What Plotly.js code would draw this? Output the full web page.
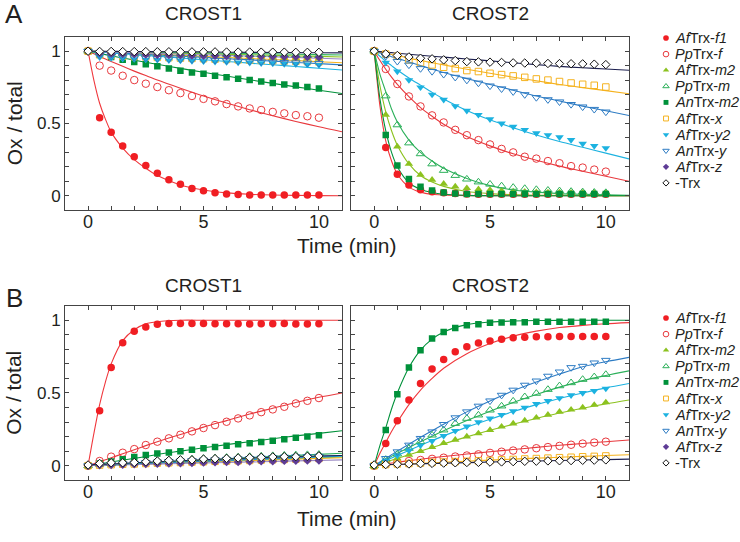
<!DOCTYPE html>
<html>
<head>
<meta charset="utf-8">
<script src="https://cdn.plot.ly/plotly-3.0.1.min.js"></script>
<style>html,body{margin:0;padding:0;background:#fff;}#chart{width:740px;height:542px;}</style>
</head>
<body>
<div id="chart"></div>
<script>
// ---------- DATA ----------
const time = [0,0.5,1,1.5,2,2.5,3,3.5,4,4.5,5,5.5,6,6.5,7,7.5,8,8.5,9,9.5,10];
const fitTime = [0,0.25,0.5,0.75,1,1.5,2,2.5,3,4,5,6,7,8,9,10,11];

const seriesNames = ['<i>Af</i>Trx-<i>f1</i>','<i>Pp</i>Trx-<i>f</i>','<i>Af</i>Trx-<i>m2</i>','<i>Pp</i>Trx-<i>m</i>','<i>An</i>Trx-<i>m2</i>','<i>Af</i>Trx-<i>x</i>','<i>Af</i>Trx-<i>y2</i>','<i>An</i>Trx-<i>y</i>','<i>Af</i>Trx-<i>z</i>','-Trx'];
const panelTitles = ['CROST1','CROST2'];
const rowLabels = ['A','B'];
const xTickVals = [0,1,2,3,4,5,6,7,8,9,10];
const xTickText = ['0','','','','','5','','','','','10'];
const yTickVals = [0,0.1,0.2,0.3,0.4,0.5,0.6,0.7,0.8,0.9,1];
const yTickText = ['0','','','','','0.5','','','','','1'];

// Panel A, CROST1 (points / fitted curves)
const A1_f1 = [1,0.54,0.44,0.345,0.27,0.21,0.155,0.11,0.08,0.05,0.035,0.02,0.012,0.008,0.006,0.005,0.005,0.005,0.005,0.005,0.005];
const A1_f1_fit = [1,0.8,0.64,0.53,0.44,0.33,0.25,0.19,0.14,0.075,0.04,0.02,0.01,0.005,0.003,0.001,0];
const A1_Ppf = [1,0.90,0.866,0.83,0.80,0.775,0.752,0.73,0.71,0.69,0.67,0.653,0.634,0.618,0.604,0.593,0.58,0.57,0.558,0.55,0.54];
const A1_Ppf_fit = [1,0.982,0.964,0.946,0.929,0.895,0.862,0.831,0.80,0.744,0.69,0.641,0.595,0.553,0.514,0.477,0.443];
const A1_m2 = [1,0.985,0.982,0.98,0.978,0.976,0.974,0.972,0.97,0.968,0.966,0.964,0.962,0.96,0.958,0.956,0.954,0.952,0.95,0.948,0.946];
const A1_m2_fit = [1,0.999,0.998,0.997,0.996,0.995,0.993,0.991,0.989,0.985,0.982,0.978,0.975,0.971,0.967,0.964,0.96];
const A1_Ppm = [1,0.99,0.988,0.987,0.986,0.985,0.984,0.983,0.982,0.981,0.98,0.979,0.978,0.977,0.976,0.975,0.974,0.973,0.972,0.971,0.97];
const A1_Ppm_fit = [1,0.999,0.999,0.998,0.998,0.996,0.995,0.994,0.993,0.991,0.988,0.986,0.983,0.981,0.979,0.976,0.974];
const A1_Anm2 = [1,0.975,0.96,0.94,0.925,0.91,0.895,0.88,0.865,0.853,0.843,0.83,0.82,0.81,0.80,0.79,0.78,0.77,0.762,0.753,0.742];
const A1_Anm2_fit = [1,0.992,0.984,0.976,0.968,0.953,0.938,0.923,0.909,0.881,0.854,0.828,0.802,0.777,0.753,0.73,0.707];
const A1_x = [1,0.975,0.97,0.965,0.962,0.96,0.957,0.955,0.952,0.95,0.948,0.945,0.943,0.94,0.938,0.936,0.934,0.932,0.93,0.928,0.926];
const A1_x_fit = [1,0.998,0.996,0.995,0.993,0.989,0.985,0.982,0.978,0.971,0.964,0.956,0.949,0.942,0.935,0.927,0.92];
const A1_y2 = [1,0.958,0.952,0.948,0.945,0.942,0.94,0.937,0.935,0.932,0.93,0.927,0.925,0.922,0.92,0.917,0.915,0.912,0.91,0.907,0.905];
const A1_y2_fit = [1,0.997,0.994,0.991,0.988,0.982,0.976,0.97,0.965,0.953,0.941,0.929,0.917,0.906,0.894,0.882,0.87];
const A1_Any = [1,0.97,0.965,0.96,0.955,0.952,0.95,0.947,0.945,0.942,0.94,0.937,0.935,0.932,0.93,0.927,0.925,0.922,0.92,0.917,0.915];
const A1_Any_fit = [1,0.998,0.996,0.994,0.991,0.987,0.983,0.978,0.974,0.965,0.957,0.948,0.94,0.931,0.922,0.914,0.905];
const A1_z = [1,0.985,0.982,0.98,0.978,0.976,0.974,0.973,0.972,0.97,0.969,0.968,0.967,0.966,0.965,0.964,0.963,0.962,0.961,0.96,0.958];
const A1_z_fit = [1,0.999,0.998,0.996,0.995,0.993,0.99,0.988,0.985,0.98,0.975,0.971,0.966,0.961,0.956,0.951,0.946];
const A1_noTrx = [1,0.998,0.998,0.997,0.997,0.997,0.996,0.996,0.996,0.995,0.995,0.995,0.994,0.994,0.994,0.993,0.993,0.993,0.992,0.992,0.992];
const A1_noTrx_fit = [1,0.9997,0.9995,0.999,0.999,0.998,0.998,0.997,0.997,0.996,0.995,0.993,0.992,0.991,0.99,0.989,0.988];

// Panel A, CROST2
const A2_f1 = [1,0.333,0.148,0.074,0.042,0.028,0.02,0.015,0.012,0.01,0.01,0.01,0.01,0.01,0.01,0.01,0.01,0.01,0.01,0.01,0.01];
const A2_f1_fit = [1,0.62,0.38,0.24,0.15,0.06,0.025,0.01,0.005,0.001,0,0,0,0,0,0,0];
const A2_Ppf = [1,0.877,0.773,0.687,0.618,0.556,0.507,0.456,0.419,0.385,0.355,0.324,0.3,0.27,0.257,0.24,0.225,0.205,0.195,0.181,0.167];
const A2_Ppf_fit = [1,0.935,0.875,0.82,0.77,0.685,0.61,0.55,0.495,0.41,0.345,0.29,0.245,0.205,0.17,0.135,0.1];
const A2_m2 = [1,0.56,0.34,0.22,0.145,0.11,0.083,0.064,0.052,0.045,0.04,0.035,0.03,0.028,0.025,0.023,0.022,0.02,0.02,0.02,0.02];
const A2_m2_fit = [1,0.76,0.58,0.45,0.35,0.22,0.14,0.095,0.065,0.03,0.015,0.008,0.004,0.002,0.001,0,0];
const A2_Ppm = [1,0.69,0.49,0.365,0.29,0.22,0.175,0.14,0.115,0.095,0.08,0.068,0.058,0.05,0.043,0.038,0.034,0.03,0.027,0.024,0.022];
const A2_Ppm_fit = [1,0.84,0.72,0.6,0.51,0.385,0.3,0.24,0.19,0.12,0.07,0.04,0.025,0.015,0.01,0.006,0.004];
const A2_Anm2 = [1,0.42,0.21,0.116,0.063,0.036,0.022,0.016,0.013,0.012,0.012,0.012,0.012,0.012,0.012,0.012,0.012,0.012,0.012,0.012,0.012];
const A2_Anm2_fit = [1,0.67,0.45,0.3,0.2,0.09,0.045,0.022,0.01,0.003,0.001,0,0,0,0,0,0];
const A2_x = [1,0.98,0.965,0.94,0.919,0.905,0.889,0.88,0.866,0.859,0.847,0.838,0.829,0.819,0.808,0.8,0.79,0.78,0.771,0.764,0.752];
const A2_x_fit = [1,0.992,0.985,0.977,0.97,0.952,0.935,0.92,0.905,0.875,0.847,0.82,0.795,0.77,0.748,0.727,0.706];
const A2_y2 = [1,0.92,0.86,0.80,0.75,0.70,0.664,0.62,0.588,0.56,0.53,0.5,0.478,0.456,0.433,0.42,0.405,0.386,0.36,0.345,0.33];
const A2_y2_fit = [1,0.965,0.93,0.9,0.87,0.815,0.765,0.715,0.67,0.59,0.525,0.47,0.42,0.375,0.335,0.295,0.255];
const A2_Any = [1,0.965,0.93,0.905,0.88,0.86,0.84,0.82,0.80,0.78,0.76,0.74,0.72,0.70,0.68,0.665,0.65,0.632,0.615,0.598,0.58];
const A2_Any_fit = [1,0.987,0.975,0.962,0.95,0.925,0.9,0.876,0.852,0.81,0.77,0.73,0.69,0.655,0.62,0.588,0.555];
const A2_noTrx = [1,0.981,0.97,0.96,0.951,0.947,0.94,0.935,0.928,0.926,0.924,0.922,0.919,0.918,0.917,0.915,0.914,0.913,0.912,0.91,0.907];
const A2_noTrx_fit = [1,0.997,0.993,0.99,0.986,0.979,0.972,0.965,0.959,0.946,0.933,0.92,0.907,0.895,0.885,0.877,0.868];

// Panel B, CROST1
const B1_f1 = [0,0.378,0.675,0.845,0.925,0.954,0.973,0.977,0.977,0.977,0.977,0.976,0.976,0.976,0.975,0.976,0.976,0.977,0.975,0.975,0.976];
const B1_f1_fit = [0,0.22,0.42,0.575,0.70,0.86,0.935,0.975,0.99,1,1,1,1,1,1,1,1];
const B1_Ppf = [0,0.032,0.062,0.089,0.114,0.142,0.165,0.188,0.213,0.236,0.259,0.279,0.302,0.325,0.346,0.368,0.387,0.405,0.428,0.446,0.465];
const B1_Ppf_fit = [0,0.014,0.028,0.041,0.055,0.082,0.11,0.138,0.165,0.215,0.265,0.31,0.355,0.395,0.435,0.47,0.5];
const B1_m2 = [0,0.005,0.008,0.011,0.014,0.017,0.02,0.022,0.025,0.028,0.03,0.033,0.035,0.038,0.04,0.043,0.045,0.048,0.05,0.052,0.055];
const B1_m2_fit = [0,0.001,0.003,0.004,0.005,0.008,0.011,0.014,0.016,0.022,0.027,0.033,0.038,0.044,0.049,0.055,0.06];
const B1_Ppm = [0,0.01,0.015,0.02,0.025,0.03,0.034,0.038,0.042,0.046,0.05,0.053,0.057,0.06,0.063,0.066,0.069,0.072,0.074,0.076,0.078];
const B1_Ppm_fit = [0,0.002,0.004,0.006,0.008,0.012,0.016,0.02,0.024,0.032,0.04,0.048,0.056,0.064,0.071,0.078,0.085];
const B1_Anm2 = [0,0.015,0.028,0.044,0.06,0.073,0.083,0.09,0.1,0.11,0.12,0.128,0.137,0.147,0.154,0.163,0.172,0.181,0.192,0.2,0.21];
const B1_Anm2_fit = [0,0.006,0.013,0.019,0.025,0.038,0.05,0.063,0.077,0.1,0.123,0.145,0.165,0.185,0.205,0.222,0.24];
const B1_x = [0,0.004,0.007,0.01,0.012,0.015,0.018,0.02,0.022,0.025,0.027,0.03,0.032,0.034,0.036,0.039,0.041,0.043,0.045,0.048,0.05];
const B1_x_fit = [0,0.001,0.003,0.004,0.005,0.008,0.01,0.013,0.015,0.02,0.025,0.03,0.035,0.04,0.045,0.05,0.055];
const B1_y2 = [0,0.005,0.009,0.012,0.016,0.019,0.022,0.025,0.028,0.031,0.034,0.037,0.04,0.043,0.046,0.049,0.052,0.055,0.057,0.06,0.062];
const B1_y2_fit = [0,0.0015,0.003,0.0045,0.006,0.009,0.012,0.015,0.018,0.024,0.03,0.036,0.041,0.047,0.053,0.059,0.065];
const B1_Any = [0,0.006,0.01,0.014,0.018,0.022,0.025,0.029,0.032,0.035,0.038,0.041,0.044,0.047,0.05,0.053,0.056,0.059,0.061,0.063,0.065];
const B1_Any_fit = [0,0.0016,0.003,0.005,0.006,0.01,0.013,0.016,0.019,0.025,0.032,0.038,0.045,0.051,0.057,0.064,0.07];
const B1_z = [0,0.003,0.005,0.007,0.009,0.011,0.013,0.015,0.017,0.019,0.021,0.023,0.025,0.026,0.028,0.03,0.031,0.033,0.034,0.035,0.036];
const B1_z_fit = [0,0.001,0.002,0.003,0.004,0.005,0.007,0.009,0.011,0.015,0.018,0.022,0.025,0.029,0.033,0.036,0.04];
const B1_noTrx = [0.005,0.015,0.02,0.02,0.022,0.027,0.032,0.036,0.04,0.04,0.045,0.048,0.05,0.053,0.055,0.057,0.06,0.062,0.062,0.064,0.067];
const B1_noTrx_fit = [0.005,0.007,0.009,0.011,0.012,0.016,0.02,0.023,0.027,0.033,0.04,0.046,0.052,0.058,0.063,0.067,0.07];

// Panel B, CROST2
const B2_f1 = [0,0.153,0.309,0.451,0.565,0.664,0.73,0.783,0.817,0.844,0.858,0.87,0.879,0.883,0.886,0.887,0.888,0.888,0.888,0.889,0.888];
const B2_f1_fit = [0,0.085,0.16,0.235,0.3,0.42,0.52,0.6,0.67,0.77,0.84,0.89,0.925,0.95,0.965,0.976,0.984];
const B2_Ppf = [0,0.015,0.025,0.032,0.039,0.047,0.055,0.063,0.07,0.078,0.088,0.096,0.104,0.112,0.12,0.128,0.136,0.144,0.152,0.159,0.165];
const B2_Ppf_fit = [0,0.006,0.012,0.018,0.024,0.034,0.044,0.054,0.063,0.08,0.096,0.111,0.126,0.14,0.153,0.165,0.177];
const B2_m2 = [0,0.025,0.05,0.075,0.1,0.128,0.155,0.178,0.2,0.222,0.245,0.268,0.29,0.31,0.33,0.35,0.37,0.385,0.4,0.418,0.435];
const B2_m2_fit = [0,0.013,0.025,0.038,0.05,0.075,0.1,0.125,0.15,0.198,0.243,0.285,0.325,0.362,0.395,0.425,0.452];
const B2_Ppm = [0,0.043,0.08,0.119,0.165,0.21,0.245,0.29,0.325,0.348,0.382,0.41,0.444,0.474,0.497,0.524,0.549,0.57,0.593,0.611,0.627];
const B2_Ppm_fit = [0,0.021,0.043,0.064,0.085,0.125,0.165,0.203,0.24,0.31,0.375,0.435,0.49,0.54,0.585,0.62,0.652];
const B2_Anm2 = [0,0.245,0.492,0.675,0.794,0.874,0.92,0.947,0.966,0.973,0.982,0.984,0.986,0.987,0.99,0.99,0.99,0.99,0.99,0.99,0.99];
const B2_Anm2_fit = [0,0.14,0.26,0.39,0.5,0.675,0.795,0.87,0.92,0.97,0.988,0.995,0.998,0.999,1,1,1];
const B2_x = [0,0.008,0.012,0.015,0.018,0.022,0.025,0.028,0.03,0.033,0.036,0.04,0.043,0.046,0.049,0.052,0.055,0.058,0.061,0.064,0.067];
const B2_x_fit = [0,0.002,0.004,0.006,0.008,0.012,0.016,0.02,0.024,0.031,0.038,0.045,0.052,0.058,0.064,0.07,0.075];
const B2_y2 = [0,0.035,0.07,0.105,0.14,0.17,0.205,0.24,0.27,0.3,0.325,0.35,0.375,0.4,0.425,0.445,0.465,0.485,0.5,0.515,0.53];
const B2_y2_fit = [0,0.018,0.035,0.053,0.07,0.105,0.14,0.173,0.205,0.265,0.32,0.372,0.42,0.462,0.5,0.535,0.565];
const B2_Any = [0,0.05,0.096,0.142,0.188,0.233,0.284,0.33,0.371,0.41,0.446,0.485,0.52,0.554,0.583,0.616,0.645,0.675,0.684,0.707,0.725];
const B2_Any_fit = [0,0.025,0.05,0.075,0.1,0.148,0.195,0.24,0.285,0.37,0.445,0.515,0.575,0.63,0.68,0.715,0.745];
const B2_noTrx = [0.005,0.008,0.01,0.012,0.014,0.016,0.018,0.02,0.022,0.023,0.025,0.026,0.028,0.03,0.031,0.033,0.034,0.035,0.037,0.038,0.04];
const B2_noTrx_fit = [0.005,0.006,0.007,0.008,0.009,0.011,0.013,0.015,0.017,0.021,0.025,0.029,0.032,0.036,0.039,0.042,0.045];

// ---------- STYLE ----------
const FONT = '"Liberation Sans", Arial, Helvetica, sans-serif';
const TXT = '#231f20';
const styles = [
  {sym:'circle',            size:7.5, color:'#f01e23', line:'#f0383d'},
  {sym:'circle-open',       size:7.5, color:'#e8383d', line:'#e8383d'},
  {sym:'triangle-up',       size:7.5, color:'#8cc21f', line:'#8cc21f'},
  {sym:'triangle-up-open',  size:7.5, color:'#2cb05a', line:'#2cb05a'},
  {sym:'square',            size:6.5, color:'#00913a', line:'#00913a'},
  {sym:'square-open',       size:6.5, color:'#f5b21e', line:'#f5b21e'},
  {sym:'triangle-down',     size:7.5, color:'#1cb2e0', line:'#1cb2e0'},
  {sym:'triangle-down-open',size:7.5, color:'#2e7cc4', line:'#2e7cc4'},
  {sym:'diamond',           size:6.5, color:'#5e3c96', line:'#9a88c4'},
  {sym:'diamond',           size:6.5, color:'#111111', line:'#1d2050', fill:'#ffffff'}
];

const panels = [
  {xa:'x',  ya:'y',  pts:[A1_f1,A1_Ppf,A1_m2,A1_Ppm,A1_Anm2,A1_x,A1_y2,A1_Any,A1_z,A1_noTrx],
                     fit:[A1_f1_fit,A1_Ppf_fit,A1_m2_fit,A1_Ppm_fit,A1_Anm2_fit,A1_x_fit,A1_y2_fit,A1_Any_fit,A1_z_fit,A1_noTrx_fit]},
  {xa:'x2', ya:'y2', pts:[A2_f1,A2_Ppf,A2_m2,A2_Ppm,A2_Anm2,A2_x,A2_y2,A2_Any,null,A2_noTrx],
                     fit:[A2_f1_fit,A2_Ppf_fit,A2_m2_fit,A2_Ppm_fit,A2_Anm2_fit,A2_x_fit,A2_y2_fit,A2_Any_fit,null,A2_noTrx_fit]},
  {xa:'x3', ya:'y3', pts:[B1_f1,B1_Ppf,B1_m2,B1_Ppm,B1_Anm2,B1_x,B1_y2,B1_Any,B1_z,B1_noTrx],
                     fit:[B1_f1_fit,B1_Ppf_fit,B1_m2_fit,B1_Ppm_fit,B1_Anm2_fit,B1_x_fit,B1_y2_fit,B1_Any_fit,B1_z_fit,B1_noTrx_fit]},
  {xa:'x4', ya:'y4', pts:[B2_f1,B2_Ppf,B2_m2,B2_Ppm,B2_Anm2,B2_x,B2_y2,B2_Any,null,B2_noTrx],
                     fit:[B2_f1_fit,B2_Ppf_fit,B2_m2_fit,B2_Ppm_fit,B2_Anm2_fit,B2_x_fit,B2_y2_fit,B2_Any_fit,null,B2_noTrx_fit]}
];

const traces = [];
panels.forEach(p => {
  // fitted curves underneath
  p.fit.forEach((f, i) => {
    if (!f) return;
    traces.push({type:'scatter', mode:'lines', x:fitTime, y:f, xaxis:p.xa, yaxis:p.ya,
      line:{color:styles[i].line, width:1.1, shape:'spline', smoothing:0.8},
      showlegend:false, hoverinfo:'skip'});
  });
});
panels.forEach(p => {
  p.pts.forEach((v, i) => {
    if (!v) return;
    const s = styles[i];
    const open = s.sym.indexOf('open') >= 0;
    traces.push({type:'scatter', mode:'markers', x:time, y:v, xaxis:p.xa, yaxis:p.ya, name:seriesNames[i],
      marker:{symbol:s.sym, size:s.size, color: s.fill ? s.fill : s.color,
              line:{color:s.color, width: (open || s.fill) ? 1 : 0}},
      showlegend:false});
  });
});

// custom legends (one per row) on a hidden pixel-space axis
const legendTop = [38, 318];
const legendStep = 16.1;
const legendMarkX = 666, legendTextX = 673;
const annotations = [];
legendTop.forEach(top => {
  styles.forEach((s, i) => {
    const open = s.sym.indexOf('open') >= 0;
    traces.push({type:'scatter', mode:'markers', x:[legendMarkX], y:[top + i*legendStep], xaxis:'x5', yaxis:'y5',
      marker:{symbol:s.sym, size:s.size*0.75, color: s.fill ? s.fill : s.color,
              line:{color:s.color, width:(open || s.fill) ? 1 : 0}},
      showlegend:false, hoverinfo:'skip', cliponaxis:false});
    annotations.push({xref:'x5', yref:'y5', x:legendTextX, y:top + i*legendStep, text:seriesNames[i],
      showarrow:false, xanchor:'left', yanchor:'middle', font:{family:FONT, size:14.5, color:TXT}});
  });
});

// pixel helpers for paper placement
const W = 740, H = 542;
const px = v => v / W, py = v => 1 - v / H;
const colX = [[65, 342], [351, 629]];
const rowY = [[37, 209.5], [306, 479.5]];

function ann(text, x, y, size, extra) {
  return Object.assign({xref:'paper', yref:'paper', x:px(x), y:py(y), text:text, showarrow:false,
    xanchor:'center', yanchor:'middle', font:{family:FONT, size:size, color:TXT}}, extra || {});
}
const rowTitleY = [14, 285];
rowLabels.forEach((r, k) => {
  annotations.push(ann(r, 14, [14, 298][k], 26));
  panelTitles.forEach((t, c) => annotations.push(ann(t, (colX[c][0] + colX[c][1]) / 2, rowTitleY[k], 19)));
  annotations.push(ann('Ox / total', 14, (rowY[k][0] + rowY[k][1]) / 2, 21, {textangle:-90}));
  annotations.push(ann('Time (min)', 347, [245, 518][k], 21));
});

function xAxis(c, k, anchor) {
  return {domain:[px(colX[c][0]), px(colX[c][1])], anchor:anchor, range:[-1, 11],
    tickvals:xTickVals, ticktext:xTickText, ticks:'inside', ticklen:4, tickcolor:'#444',
    showline:true, linecolor:'#444', linewidth:1, mirror:'ticks', showgrid:false, zeroline:false,
    ticklabelstandoff:-4,
    tickfont:{family:FONT, size:18, color:TXT}, fixedrange:true};
}
function yAxis(c, k, anchor) {
  return {domain:[py(rowY[k][1]), py(rowY[k][0])], anchor:anchor, range:[-0.095, 1.098],
    tickvals:yTickVals, ticktext:yTickText, ticks:'inside', ticklen:4, tickcolor:'#444',
    showline:true, linecolor:'#444', linewidth:1, mirror:'ticks', showgrid:false, zeroline:false,
    showticklabels: c === 0, tickfont:{family:FONT, size:17, color:TXT}, fixedrange:true};
}

const layout = {
  width:W, height:H, margin:{l:0, r:0, t:0, b:0}, paper_bgcolor:'#fff', plot_bgcolor:'#fff',
  showlegend:false, font:{family:FONT, color:TXT},
  xaxis: xAxis(0,0,'y'),  yaxis: yAxis(0,0,'x'),
  xaxis2:xAxis(1,0,'y2'), yaxis2:yAxis(1,0,'x2'),
  xaxis3:xAxis(0,1,'y3'), yaxis3:yAxis(0,1,'x3'),
  xaxis4:xAxis(1,1,'y4'), yaxis4:yAxis(1,1,'x4'),
  xaxis5:{domain:[px(629), 1], range:[629, 740], visible:false, fixedrange:true, anchor:'y5'},
  yaxis5:{domain:[0, 1], range:[542, 0], visible:false, fixedrange:true, anchor:'x5'},
  annotations: annotations
};

Plotly.newPlot('chart', traces, layout, {staticPlot:true, displayModeBar:false});
</script>
</body>
</html>
